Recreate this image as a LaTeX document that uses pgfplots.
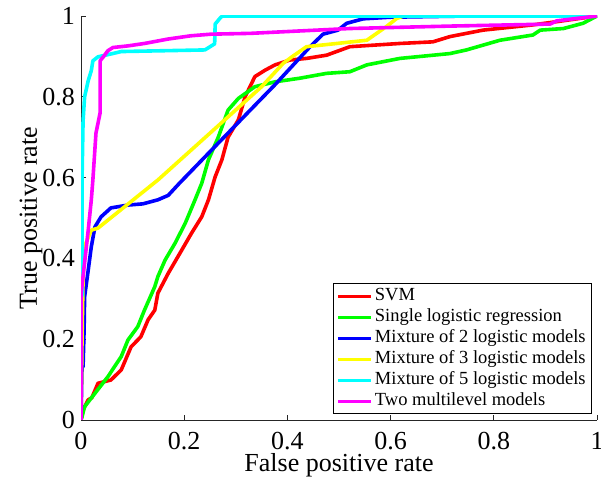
\documentclass[border=0pt]{standalone}
\usepackage{fontspec}
\setmainfont{Liberation Serif}
\usepackage{pgfplots}
\pgfplotsset{compat=1.18}
\definecolor{cR}{rgb}{1,0,0}
\definecolor{cG}{rgb}{0,1,0}
\definecolor{cB}{rgb}{0,0,1}
\definecolor{cY}{rgb}{1,1,0}
\definecolor{cC}{rgb}{0,1,1}
\definecolor{cM}{rgb}{1,0,1}
\begin{document}
\begin{tikzpicture}
\begin{axis}[
  scale only axis, width=516pt, height=404pt,
  xmin=0, xmax=1, ymin=0, ymax=1,
  axis x line*=bottom, axis y line*=left,
  axis line style={line width=0.8pt, black!85},
  tick align=inside, major tick length=5pt,
  tick style={line width=0.8pt, black!85},
  xtick={0,0.2,0.4,0.6,0.8,1}, ytick={0,0.2,0.4,0.6,0.8,1},
  /pgf/number format/assume math mode=true,
  tick label style={font=\fontsize{26}{26}\selectfont},
  xticklabel style={inner sep=0pt, yshift=-12pt},
  yticklabel style={inner sep=0pt, xshift=-6pt},
  label style={font=\fontsize{26}{26}\selectfont},
  xlabel={False positive rate},
  ylabel={True positive rate},
  xlabel style={at={(axis description cs:0.5,0)}, anchor=base, yshift=-52pt, inner sep=0pt},
  ylabel style={at={(axis description cs:0,0.5)}, anchor=base, yshift=44pt, inner sep=0pt},
  legend cell align=left,
  legend style={at={(rel axis cs:1,0)}, anchor=south east, xshift=-5pt, yshift=6pt,
    draw=black, line width=0.8pt, fill=white,
    font=\fontsize{18.5}{21}\selectfont,
    inner xsep=4pt, inner ysep=2pt,
    nodes={inner xsep=2pt, inner ysep=0pt, text height=14.5pt, text depth=6.5pt},
    row sep=0pt},
  legend image code/.code={\draw[#1, line width=3pt] (0pt,0pt) -- (33pt,0pt);},
  every axis plot/.append style={line width=3.6pt, line join=round, no markers},
]
\addplot[cR] coordinates {(0,0) (0.004,0.025) (0.014,0.05) (0.021,0.055) (0.033,0.091) (0.058,0.099) (0.078,0.124) (0.097,0.181) (0.116,0.206) (0.130,0.248) (0.143,0.272) (0.149,0.314) (0.169,0.363) (0.195,0.42) (0.214,0.462) (0.234,0.503) (0.247,0.545) (0.26,0.602) (0.273,0.644) (0.285,0.70) (0.305,0.743) (0.318,0.80) (0.337,0.85) (0.357,0.866) (0.376,0.879) (0.405,0.891) (0.437,0.895) (0.476,0.903) (0.521,0.924) (0.618,0.932) (0.682,0.936) (0.715,0.949) (0.779,0.965) (0.876,0.978) (0.922,0.986) (1,1)};
\addlegendentry{SVM}
\addplot[cG] coordinates {(0,0) (0.002,0.008) (0.007,0.033) (0.027,0.066) (0.052,0.107) (0.078,0.157) (0.091,0.198) (0.110,0.231) (0.123,0.272) (0.143,0.33) (0.149,0.355) (0.163,0.396) (0.182,0.437) (0.202,0.487) (0.221,0.545) (0.234,0.586) (0.247,0.644) (0.266,0.70) (0.285,0.767) (0.305,0.796) (0.337,0.825) (0.376,0.837) (0.424,0.846) (0.476,0.858) (0.521,0.862) (0.554,0.879) (0.618,0.895) (0.715,0.907) (0.747,0.916) (0.812,0.94) (0.876,0.953) (0.89,0.965) (0.935,0.969) (0.973,0.982) (1,1)};
\addlegendentry{Single logistic regression}
\addplot[cB] coordinates {(0,0) (0.002,0.13) (0.004,0.132) (0.006,0.223) (0.007,0.305) (0.014,0.371) (0.02,0.429) (0.027,0.478) (0.039,0.503) (0.058,0.525) (0.091,0.532) (0.12,0.535) (0.149,0.545) (0.169,0.556) (0.19,0.585) (0.328,0.767) (0.376,0.83) (0.444,0.924) (0.469,0.955) (0.498,0.965) (0.515,0.982) (0.547,0.993) (0.6,0.997) (0.75,1) (1,1)};
\addlegendentry{Mixture of 2 logistic models}
\addplot[cY] coordinates {(0,0) (0.002,0.2) (0.004,0.347) (0.007,0.43) (0.02,0.47) (0.033,0.475) (0.149,0.594) (0.35,0.825) (0.392,0.883) (0.41,0.9) (0.437,0.924) (0.496,0.932) (0.554,0.94) (0.573,0.957) (0.592,0.974) (0.612,0.994) (0.625,1) (1,1)};
\addlegendentry{Mixture of 3 logistic models}
\addplot[cC] coordinates {(0,0) (0,0.3) (0.002,0.31) (0.002,0.594) (0.004,0.74) (0.007,0.8) (0.014,0.84) (0.02,0.865) (0.023,0.889) (0.033,0.899) (0.058,0.906) (0.078,0.912) (0.24,0.916) (0.249,0.923) (0.259,0.931) (0.26,0.98) (0.271,0.997) (0.275,1) (1,1)};
\addlegendentry{Mixture of 5 logistic models}
\addplot[cM] coordinates {(0,0) (0,0.31) (0.007,0.39) (0.014,0.47) (0.02,0.545) (0.023,0.594) (0.029,0.71) (0.037,0.76) (0.037,0.889) (0.044,0.9) (0.052,0.914) (0.062,0.922) (0.091,0.926) (0.123,0.932) (0.169,0.943) (0.213,0.951) (0.252,0.955) (0.328,0.957) (0.521,0.969) (0.715,0.975) (0.909,0.98) (0.922,0.988) (0.961,0.994) (1,1)};
\addlegendentry{Two multilevel models}
\coordinate (bl) at (rel axis cs:0,0);
\coordinate (tr) at (rel axis cs:1,1);
\end{axis}
\pgfresetboundingbox
\path[use as bounding box] ([shift={(-81pt,-63pt)}]bl) rectangle ([shift={(4pt,16pt)}]tr);
\end{tikzpicture}
\end{document}
